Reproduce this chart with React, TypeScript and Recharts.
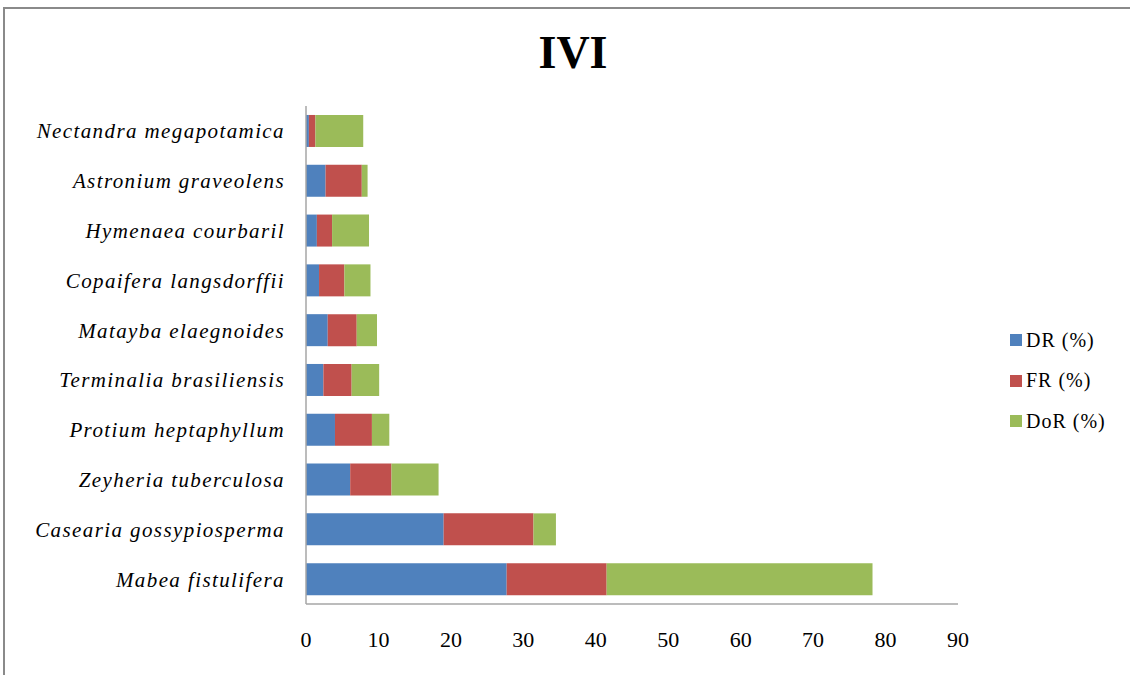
import { BarChart, Bar, XAxis, YAxis } from 'recharts';

const species = [
  'Nectandra megapotamica',
  'Astronium graveolens',
  'Hymenaea courbaril',
  'Copaifera langsdorffii',
  'Matayba elaegnoides',
  'Terminalia brasiliensis',
  'Protium heptaphyllum',
  'Zeyheria tuberculosa',
  'Casearia gossypiosperma',
  'Mabea fistulifera',
];
const drValues = [0.4, 2.7, 1.5, 1.8, 3.0, 2.4, 4.0, 6.1, 19.0, 27.7];
const frValues = [0.9, 5.0, 2.1, 3.5, 4.0, 3.9, 5.1, 5.7, 12.4, 13.8];
const dorValues = [6.6, 0.8, 5.1, 3.6, 2.8, 3.8, 2.4, 6.5, 3.1, 36.7];
const xTicks = [0, 10, 20, 30, 40, 50, 60, 70, 80, 90];

const seriesList = [
  { key: 'dr', name: 'DR (%)', color: '#4F81BD' },
  { key: 'fr', name: 'FR (%)', color: '#C0504D' },
  { key: 'dor', name: 'DoR (%)', color: '#9BBB59' },
];

const data = species.map((name, i) => ({
  name,
  dr: drValues[i],
  fr: frValues[i],
  dor: dorValues[i],
}));

const serif = '"Times New Roman", "Liberation Serif", serif';

function LegendBox() {
  return (
    <div
      style={{
        position: 'absolute',
        left: 1010,
        top: 320,
        fontFamily: serif,
        fontSize: 20,
        letterSpacing: 1,
        color: '#000',
      }}
    >
      {seriesList.map((s) => (
        <div key={s.key} style={{ display: 'flex', alignItems: 'center', height: 40.5 }}>
          <span style={{ width: 12, height: 12, background: s.color, marginRight: 4 }} />
          <span>{s.name}</span>
        </div>
      ))}
    </div>
  );
}

export default function App() {
  return (
    <div style={{ position: 'relative', width: 1130, height: 675, background: '#fff' }}>
      <style>{'body{margin:0}'}</style>
      <div
        style={{
          position: 'absolute',
          left: 3,
          top: 7,
          width: 1140,
          height: 680,
          borderLeft: '2px solid #8a8a8a',
          borderTop: '2px solid #8a8a8a',
          boxSizing: 'border-box',
        }}
      />
      <div
        style={{
          position: 'absolute',
          top: 26,
          left: 0,
          width: 1146,
          textAlign: 'center',
          fontFamily: serif,
          fontWeight: 'bold',
          fontSize: 46,
        }}
      >
        IVI
      </div>
      <BarChart
        width={1130}
        height={675}
        data={data}
        layout="vertical"
        margin={{ top: 106, right: 172, bottom: 31, left: 0 }}
        barCategoryGap="18%"
        style={{ position: 'absolute', left: 0, top: 0 }}
      >
        <XAxis
          type="number"
          domain={[0, 90]}
          ticks={xTicks}
          interval={0}
          height={40}
          tickSize={0}
          tickMargin={27}
          axisLine={{ stroke: '#a6a6a6', strokeWidth: 1.5 }}
          tick={{ fill: '#000', fontFamily: serif, fontSize: 22 }}
        />
        <YAxis
          type="category"
          dataKey="name"
          width={306}
          interval={0}
          tickSize={0}
          tickMargin={21}
          axisLine={{ stroke: '#a6a6a6', strokeWidth: 1.5 }}
          tick={{ fill: '#000', fontFamily: serif, fontSize: 21, fontStyle: 'italic', letterSpacing: 1.4 }}
        />
        {seriesList.map((s) => (
          <Bar key={s.key} dataKey={s.key} name={s.name} stackId="ivi" fill={s.color} isAnimationActive={false} />
        ))}
      </BarChart>
      <LegendBox />
    </div>
  );
}
